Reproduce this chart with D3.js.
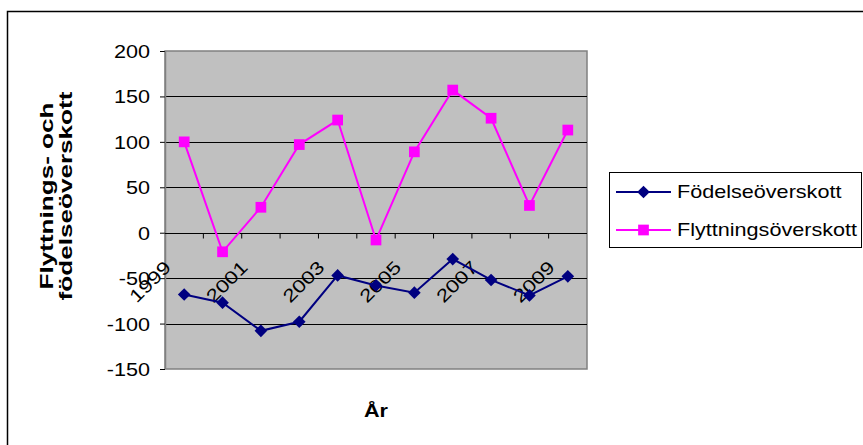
<!DOCTYPE html>
<html>
<head>
<meta charset="utf-8">
<script src="https://cdn.jsdelivr.net/npm/d3@7/dist/d3.min.js"></script>
<style>
  html, body { margin: 0; padding: 0; background: #fff; }
  svg { display: block; font-family: "Liberation Sans", Arial, sans-serif; }
</style>
</head>
<body>
<svg id="chart" width="863" height="445"></svg>
<script>
// Population change per year
const years = ["1999", "2000", "2001", "2002", "2003", "2004", "2005", "2006", "2007", "2008", "2009"];
const fodelseoverskott = [-68, -77, -108, -98, -47, -58, -66, -29, -52, -69, -48];
const flyttningsoverskott = [100, -21, 28, 97, 124, -8, 89, 157, 126, 30, 113];
const yTicks = [200, 150, 100, 50, 0, -50, -100, -150];
const xLabelYears = ["1999", "2001", "2003", "2005", "2007", "2009"];
const seriesNames = ["Födelseöverskott", "Flyttningsöverskott"];

const svg = d3.select("#chart");
const FS = 18;   // base font size
const SX = 1.2;  // horizontal text stretch

// outer chart-area frame
svg.append("rect")
  .attr("x", 7.5).attr("y", 11.5).attr("width", 880).attr("height", 460)
  .attr("fill", "#fff").attr("stroke", "#000").attr("stroke-width", 1.5);

const plot = { left: 165, right: 587, top: 51, bottom: 369 };

const x = d3.scaleBand().domain(years).range([plot.left, plot.right]);
const y = d3.scaleLinear().domain([-150, 200]).range([plot.bottom, plot.top]);

// plot area
svg.append("rect")
  .attr("x", plot.left).attr("y", plot.top)
  .attr("width", plot.right - plot.left).attr("height", plot.bottom - plot.top)
  .attr("fill", "#c0c0c0").attr("stroke", "#808080").attr("stroke-width", 1.5);

// horizontal gridlines
svg.append("g").selectAll("line").data(yTicks.filter(d => d !== -150 && d !== 200)).join("line")
  .attr("x1", plot.left).attr("x2", plot.right)
  .attr("y1", d => Math.round(y(d)) + 0.5).attr("y2", d => Math.round(y(d)) + 0.5)
  .attr("stroke", "#000").attr("stroke-width", 1);

// y axis
const yAxis = d3.axisLeft(y).tickValues(yTicks).tickSize(5).tickPadding(0).tickFormat(d3.format("d"));
const gy = svg.append("g").attr("transform", `translate(${plot.left},0)`).call(yAxis);
gy.select(".domain").remove();
gy.selectAll(".tick line").attr("stroke", "#000");
gy.selectAll(".tick text").remove();
gy.selectAll(".tick").append("text")
  .attr("transform", `translate(-15,0) scale(${SX},1)`)
  .attr("text-anchor", "end").attr("dy", "0.36em")
  .attr("font-size", FS).attr("fill", "#000")
  .text(d => d);
svg.append("line")
  .attr("x1", plot.left + 0.5).attr("x2", plot.left + 0.5)
  .attr("y1", plot.top).attr("y2", plot.bottom)
  .attr("stroke", "#808080").attr("stroke-width", 1.5);

// category axis on the zero line
const x0 = Math.round(y(0)) + 0.5;
svg.append("line")
  .attr("x1", plot.left).attr("x2", plot.right).attr("y1", x0).attr("y2", x0)
  .attr("stroke", "#000").attr("stroke-width", 1.2);
svg.append("g").selectAll("line").data(years.slice(1)).join("line")
  .attr("x1", d => x(d)).attr("x2", d => x(d))
  .attr("y1", x0).attr("y2", x0 + 5)
  .attr("stroke", "#000").attr("stroke-width", 1);

// rotated year labels
svg.append("g").selectAll("text").data(xLabelYears).join("text")
  .attr("transform", d => `translate(${x(d) + x.bandwidth() / 2 - 12},${x0 + 35}) rotate(-45) scale(1.25,1)`)
  .attr("text-anchor", "end")
  .attr("font-size", FS).attr("fill", "#000")
  .text(d => d);

// series
const series = [
  { name: seriesNames[0], values: fodelseoverskott, color: "#000080", marker: "diamond" },
  { name: seriesNames[1], values: flyttningsoverskott, color: "#ff00ff", marker: "square" }
];
const cx = d => x(d) + x.bandwidth() / 2;
const line = d3.line().x((v, i) => cx(years[i])).y(v => y(v));
const markerD = type => d3.symbol(d3.symbolSquare, type === "diamond" ? 80 : 115)();
const markerRot = type => type === "diamond" ? " rotate(45)" : "";

series.forEach(s => {
  svg.append("path").datum(s.values)
    .attr("d", line).attr("fill", "none")
    .attr("stroke", s.color).attr("stroke-width", 2);
  svg.append("g").selectAll("path").data(s.values).join("path")
    .attr("transform", (v, i) => `translate(${cx(years[i])},${y(v)})${markerRot(s.marker)}`)
    .attr("d", markerD(s.marker))
    .attr("fill", s.color);
});

// axis titles
svg.append("text")
  .attr("transform", `translate(${(plot.left + plot.right) / 2},417) scale(${SX},1)`)
  .attr("text-anchor", "middle").attr("font-size", FS).attr("font-weight", "bold")
  .text("År");
const yTitle = svg.append("text")
  .attr("transform", "translate(53,196) rotate(-90) scale(1.45,1)")
  .attr("text-anchor", "middle").attr("font-size", FS).attr("font-weight", "bold");
yTitle.append("tspan").attr("x", 0).attr("y", 0).text("Flyttnings- och");
yTitle.append("tspan").attr("x", 0).attr("y", 19).text("födelseöverskott");

// legend
const lg = svg.append("g");
lg.append("rect").attr("x", 609.5).attr("y", 172.5).attr("width", 252).attr("height", 75)
  .attr("fill", "#fff").attr("stroke", "#000").attr("stroke-width", 1);
series.forEach((s, i) => {
  const ly = 192 + i * 38;
  lg.append("line").attr("x1", 616).attr("x2", 671).attr("y1", ly).attr("y2", ly)
    .attr("stroke", s.color).attr("stroke-width", 2);
  lg.append("path")
    .attr("transform", `translate(643.5,${ly})${markerRot(s.marker)}`)
    .attr("d", markerD(s.marker))
    .attr("fill", s.color);
  lg.append("text")
    .attr("transform", `translate(677,${ly}) scale(${SX},1)`)
    .attr("dy", "0.36em").attr("font-size", FS)
    .text(s.name);
});
</script>
</body>
</html>
